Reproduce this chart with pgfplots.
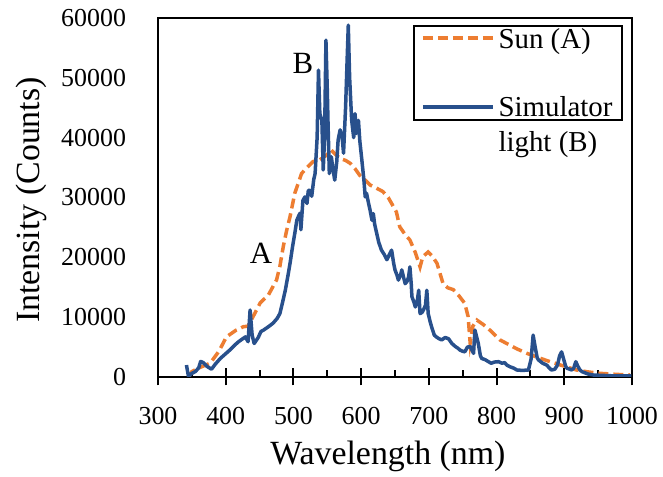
\documentclass[border=0pt]{standalone}
\usepackage{fontspec}
\setmainfont{Liberation Serif}
\usepackage{pgfplots}
\pgfplotsset{compat=1.18}
\definecolor{sunor}{RGB}{237,125,49}
\definecolor{simbl}{RGB}{40,80,140}
\begin{document}
\begin{tikzpicture}[x=1bp,y=1bp]
\useasboundingbox (0,0) rectangle (663,477);
\begin{axis}[
  at={(158bp,100bp)}, anchor=south west,
  scale only axis, width=474bp, height=359bp,
  xmin=300, xmax=1000, ymin=0, ymax=60000,
  xtick={300,400,...,1000}, ytick={0,10000,...,60000},
  minor x tick num=1,
  tick pos=left,
  tick align=center,
  major tick length=17bp, minor tick length=7bp,
  minor x tick style={yshift=3.5bp},
  y tick style={draw=none},
  major tick style={line width=2bp, black},
  minor tick style={line width=2bp, black},
  axis line style={line width=2bp},
  scaled y ticks=false,
  /pgf/number format/assume math mode=true,
  /pgf/number format/1000 sep={},
  tick label style={font=\fontsize{26}{31}\selectfont},
  xticklabel style={yshift=-18bp},
  yticklabel style={xshift=-20bp},
  label style={font=\fontsize{34}{40}\selectfont},
  xlabel={Wavelength (nm)},
  ylabel={Intensity (Counts)},
  xlabel style={at={(axis description cs:0.485,-0.245)}, anchor=base},
  ylabel style={at={(axis description cs:-0.249,0.493)}, anchor=base},
  legend style={at={(rel axis cs:0.981,0.9805)}, anchor=north east,
    draw=black, line width=2bp, font=\fontsize{29}{35}\selectfont,
    cells={anchor=base west}, nodes={inner sep=2bp},
    row sep=39bp, column sep=2bp, inner xsep=7.5bp, inner ysep=0bp},
  legend image code/.code={\draw[#1] (0bp,10bp) -- (70bp,10bp);},
]
\addplot[sunor, line width=3.5bp, dash pattern=on 10bp off 5bp] coordinates {
(345,0) (350,900) (360,1500) (377,2300) (390,4300) (401,6700) (415,7800)
(426,8400) (433,8500) (440,10000) (451,12400) (463,13700) (475,16200)
(480,18500) (485,21800) (490,24500) (495,26800) (502,30700) (512,34000)
(520,35000) (529,36000) (539,36300) (548,37000) (556,37900) (562,37200)
(569,36500) (577,36200) (584,35700) (591,34800) (598,33700) (606,32900)
(613,32100) (622,31600) (632,31000) (640,30000) (645,29000) (652,27600)
(657,25100) (665,23800) (672,22900) (680,20800) (687,18400) (691,20100)
(699,20900) (705,20200) (712,19000) (721,15600) (728,14900) (736,14600)
(745,13500) (753,12300) (758,10100) (761,5700) (765,8500) (771,9500)
(780,8800) (790,7850) (805,6200) (815,5600) (830,4700) (845,3950)
(860,3300) (879,2560) (900,1800) (918,1170) (935,850) (953,610)
(975,450) (997,330)
};
\addlegendentry{Sun (A)}
\addplot[simbl, line width=3.5bp, line join=round] coordinates {
(342,2000) (345,100) (350,600) (355,900) (360,1500) (363,2600) (367,2400)
(372,1800) (379,1300) (385,2200) (392,3100) (399,3800) (406,4500)
(413,5300) (419,5900) (424,6300) (429,6700) (433,5900) (436,11200)
(439,7000) (442,5600) (448,6600) (452,7600) (456,7850) (463,8400)
(470,9000) (476,9800) (480,10600) (484,12500) (488,14500) (492,17000)
(495,19000) (499,22000) (502,24000) (505,26200) (508,27000) (510,27400)
(511,24600) (514,29500) (517,30100) (520,29000) (522,31200) (524,31200)
(527,30200) (530,33000) (532,34000) (535,40000) (537,51300) (539,44000)
(542,42900) (544,34600) (546,40000) (548,56300) (550,48000) (551,42900)
(553,34000) (556,36800) (558,35000) (561,32900) (564,36000) (566,39600)
(569,41300) (572,40000) (574,37400) (577,45000) (579,52000) (581,58800)
(583,50000) (586,42900) (589,40000) (591,44000) (593,40700) (596,42900)
(598,39500) (601,36300) (604,33000) (606,30100) (608,30700) (611,29000)
(613,28000) (616,26200) (618,27300) (620,25500) (623,24000) (626,22500)
(630,21200) (634,20500) (638,19600) (641,20300) (645,21200) (648,19000)
(650,17900) (653,17000) (655,16200) (658,17000) (660,17900) (663,16500)
(665,15600) (668,16000) (670,16700) (672,18400) (674,15500) (675,13400)
(678,12500) (680,11700) (683,12800) (685,14500) (687,10600) (690,10800)
(692,11200) (695,12000) (697,14500) (699,10600) (702,9200) (704,8400)
(708,7000) (711,6700) (715,6400) (719,6200) (724,6600) (729,6400)
(734,5600) (739,5100) (743,4800) (746,4500) (750,4300) (753,4200)
(757,5000) (761,5100) (764,4400) (766,3950) (768,7850) (771,6500)
(773,5600) (776,3600) (778,3100) (783,2900) (788,2560) (792,2300)
(797,2500) (803,2560) (808,2300) (812,2400) (815,2000) (820,1700)
(825,1500) (830,1170) (838,1100) (847,1170) (851,3000) (854,7000)
(857,5000) (860,3200) (862,2840) (868,2300) (874,2000) (878,1500)
(881,1170) (886,1300) (890,2000) (893,3500) (896,4200) (899,3000)
(902,1800) (904,1450) (908,1300) (911,1170) (914,1500) (917,2560)
(920,1800) (923,1200) (926,900) (935,500) (943,330) (960,250)
(977,170) (999,170)
};
\addlegendentry{\begin{tabular}[t]{@{}l@{}}Simulator\\light (B)\end{tabular}}
\node[anchor=base, font=\fontsize{31}{36}\selectfont] at (axis cs:514,50800) {B};
\node[anchor=base, font=\fontsize{31}{36}\selectfont] at (axis cs:452,19050) {A};
\end{axis}
\end{tikzpicture}
\end{document}
